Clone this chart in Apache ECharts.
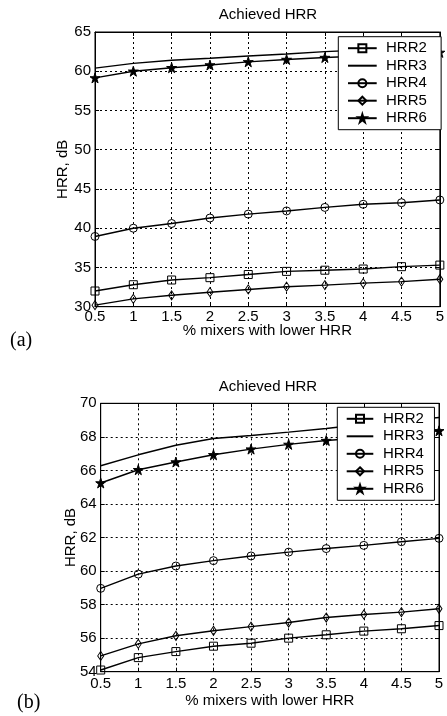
<!DOCTYPE html>
<html><head><meta charset="utf-8">
<script src="https://cdn.jsdelivr.net/npm/echarts@6/dist/echarts.min.js"></script>
<style>html,body{margin:0;padding:0;background:#fff}#c{width:447px;height:716px}</style>
</head><body><div id="c"></div>
<script>
// ---- data ----
const xValues = [0.5, 1, 1.5, 2, 2.5, 3, 3.5, 4, 4.5, 5];
const seriesNames = ['HRR2', 'HRR3', 'HRR4', 'HRR5', 'HRR6'];
// panel (a)
const hrr2A = [32.0, 32.8, 33.4, 33.7, 34.1, 34.5, 34.65, 34.8, 35.1, 35.3];
const hrr3A = [60.4, 61.0, 61.4, 61.65, 61.95, 62.2, 62.5, 62.7, 62.9, 63.1];
const hrr4A = [38.95, 40.0, 40.6, 41.3, 41.8, 42.2, 42.65, 43.05, 43.25, 43.6];
const hrr5A = [30.2, 31.0, 31.45, 31.85, 32.2, 32.55, 32.75, 33.0, 33.2, 33.5];
const hrr6A = [59.15, 60.0, 60.45, 60.8, 61.2, 61.5, 61.75, 61.95, 62.15, 62.4];
// panel (b)
const hrr2B = [54.1, 54.84, 55.2, 55.52, 55.7, 56.0, 56.2, 56.42, 56.56, 56.75];
const hrr3B = [66.28, 66.93, 67.5, 67.9, 68.08, 68.28, 68.5, 68.75, 68.95, 69.15];
const hrr4B = [58.97, 59.82, 60.3, 60.62, 60.9, 61.13, 61.34, 61.53, 61.75, 61.95];
const hrr5B = [54.94, 55.66, 56.14, 56.44, 56.69, 56.93, 57.23, 57.41, 57.55, 57.75];
const hrr6B = [65.25, 66.04, 66.5, 66.93, 67.27, 67.55, 67.78, 67.95, 68.15, 68.36];
// axis ranges / texts
const yRangeA = {min: 30, max: 65, interval: 5};
const yRangeB = {min: 54, max: 70, interval: 2};
const xRange = {min: 0.5, max: 5, interval: 0.5};
const titleText = 'Achieved HRR';
const xName = '% mixers with lower HRR';
const yName = 'HRR, dB';

// ---- styles ----
const FONT = '"Liberation Sans", Arial, sans-serif';
const SERIF = '"Liberation Serif", "Times New Roman", serif';
const STAR = 'path://M50,0 L61.2,34.5 L97.6,34.5 L68.2,55.9 L79.4,90.5 L50,69.1 L20.6,90.5 L31.8,55.9 L2.4,34.5 L38.8,34.5 Z';
const markStyle = {
  HRR2: {symbol: 'rect', size: 8, fill: 'rgba(255,255,255,0)', stroke: '#000', show: true},
  HRR3: {symbol: 'circle', size: 1, fill: 'rgba(255,255,255,0)', stroke: 'rgba(255,255,255,0)', show: false},
  HRR4: {symbol: 'circle', size: 8, fill: 'rgba(255,255,255,0)', stroke: '#000', show: true},
  HRR5: {symbol: 'diamond', size: [6, 9], fill: 'rgba(255,255,255,0)', stroke: '#000', show: true},
  HRR6: {symbol: STAR, size: 10, fill: '#000', stroke: '#000', show: true}
};

function pairs(ys) { return xValues.map((x, i) => [x, ys[i]]); }
function mk(name, ys, g) {
  const st = markStyle[name];
  return {
    type: 'line', name, xAxisIndex: g * 2, yAxisIndex: g * 2, data: pairs(ys),
    symbol: st.symbol, symbolSize: st.size, showSymbol: st.show,
    color: '#000',
    lineStyle: {color: '#000', width: 1.4},
    itemStyle: {color: st.fill, borderColor: st.stroke, borderWidth: st.show ? 1 : 0},
    animation: false, silent: true, z: 2
  };
}
const grids = [
  {left: 95, right: 3, top: 32, height: 274.7, show: true, borderColor: '#000', borderWidth: 1},
  {left: 100.7, right: 8, top: 403.3, height: 268.4, show: true, borderColor: '#000', borderWidth: 1}
];
const tickStyle = {show: true, inside: true, length: 4, lineStyle: {color: '#000', width: 1}};
const lineStyleAxis = {show: true, lineStyle: {color: '#000', width: 1}};
const gridLine = {show: true, lineStyle: {color: '#000', width: 1, type: [2, 3]}};
const labelFont = {fontFamily: FONT, fontSize: 15, color: '#000'};

function xAxes(g, labelMargin, nameGap) {
  return [
    Object.assign({type: 'value', gridIndex: g, position: 'bottom'}, xRange, {
      axisLine: lineStyleAxis, axisTick: tickStyle, splitLine: gridLine,
      axisLabel: Object.assign({margin: labelMargin, showMinLabel: true, showMaxLabel: true}, labelFont),
      name: xName, nameLocation: 'middle', nameGap: nameGap, nameTextStyle: labelFont,
      nameMoveOverlap: false
    }),
    Object.assign({type: 'value', gridIndex: g, position: 'top'}, xRange, {
      axisLine: lineStyleAxis, axisTick: tickStyle, splitLine: {show: false}, axisLabel: {show: false}
    })
  ];
}
function yAxes(g, range, nameGap) {
  return [
    Object.assign({type: 'value', gridIndex: g, position: 'left'}, range, {
      axisLine: lineStyleAxis, axisTick: tickStyle, splitLine: gridLine,
      axisLabel: Object.assign({margin: 4}, labelFont),
      name: yName, nameLocation: 'middle', nameGap: nameGap, nameRotate: 90, nameTextStyle: labelFont,
      nameMoveOverlap: false
    }),
    Object.assign({type: 'value', gridIndex: g, position: 'right'}, range, {
      axisLine: lineStyleAxis, axisTick: tickStyle, splitLine: {show: false}, axisLabel: {show: false}
    })
  ];
}
function legendAt(left, top, itemWidth, pad, textPadLeft) {
  return {
    orient: 'vertical', left, top, data: seriesNames, selectedMode: false,
    itemWidth, itemHeight: 10, itemGap: 2.5, padding: pad,
    backgroundColor: '#fff', borderColor: '#000', borderWidth: 1, borderRadius: 0,
    textStyle: {fontFamily: FONT, fontSize: 15, color: '#000', lineHeight: 15, padding: [0, 0, 0, textPadLeft]},
    z: 10
  };
}

const chart = echarts.init(document.getElementById('c'), null, {renderer: 'canvas'});
chart.setOption({
  backgroundColor: '#fff',
  animation: false,
  title: [
    {text: titleText, left: 268, top: 7, textAlign: 'center', padding: 0,
     textStyle: {fontFamily: FONT, fontSize: 15, fontWeight: 'normal', color: '#000'}},
    {text: titleText, left: 268, top: 379, textAlign: 'center', padding: 0,
     textStyle: {fontFamily: FONT, fontSize: 15, fontWeight: 'normal', color: '#000'}},
    {text: '(a)', left: 10, top: 331, padding: 0,
     textStyle: {fontFamily: SERIF, fontSize: 20, fontWeight: 'normal', color: '#000'}},
    {text: '(b)', left: 17, top: 693, padding: 0,
     textStyle: {fontFamily: SERIF, fontSize: 20, fontWeight: 'normal', color: '#000'}}
  ],
  grid: grids,
  xAxis: [...xAxes(0, 3, 17), ...xAxes(1, 5, 22)],
  yAxis: [...yAxes(0, yRangeA, 25), ...yAxes(1, yRangeB, 22)],
  legend: [
    legendAt(338.3, 36.7, 28.7, [4, 14.3, 4, 8.7], 4.3),
    legendAt(337.3, 407.3, 26.6, [4, 10.6, 4, 8.4], 4.7)
  ],
  series: [
    mk('HRR2', hrr2A, 0), mk('HRR3', hrr3A, 0), mk('HRR4', hrr4A, 0), mk('HRR5', hrr5A, 0), mk('HRR6', hrr6A, 0),
    mk('HRR2', hrr2B, 1), mk('HRR3', hrr3B, 1), mk('HRR4', hrr4B, 1), mk('HRR5', hrr5B, 1), mk('HRR6', hrr6B, 1)
  ]
});
</script>
</body></html>
